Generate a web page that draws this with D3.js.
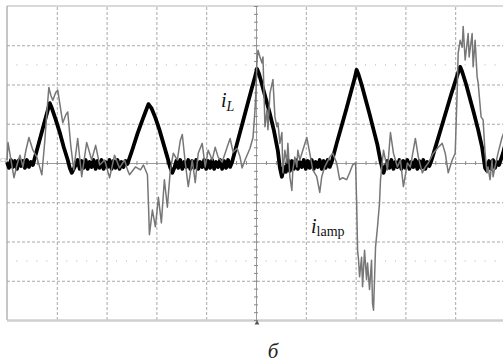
<!DOCTYPE html>
<html>
<head>
<meta charset="utf-8">
<script src="https://cdn.jsdelivr.net/npm/d3@7"></script>
<style>
  body { margin: 0; background: #fff; }
  svg { display: block; }
</style>
</head>
<body>
<script>
// time in us (50 us/div), current in mA (40 mA/div)
const iL_t = [
    0,2,4,6,8,10,12,14,16,18,20,22,24,26,
    34,38,41,43,45,49,53,57,61,63,65,67,
    69,71,73,75,77,79,81,83,85,87,89,91,93,95,97,99,101,103,105,107,109,111,113,115,117,119,121,
    126,131,136,139,142,145,149,153,157,161,164,166,168,
    170,172,174,176,178,180,182,184,186,188,190,192,194,196,198,200,202,204,206,208,210,212,214,216,218,220,222,224,226,
    231,236,241,246,249,251,253,256,260,264,268,272,274,276,278,
    280,282,284,286,288,290,292,294,296,298,300,302,304,306,308,310,312,314,316,318,320,322,324,326,
    331,336,341,346,349,351,353,356,360,364,368,372,375,378,380,
    382,384,386,388,390,392,394,396,398,400,402,404,406,408,410,412,414,416,418,420,422,424,426,
    431,436,441,446,451,453,455,457,461,465,469,473,477,480,482,
    484,486,488,490,492,494,496,498,500
];
const iL_v = [
    1,-5,3,-4,2,-6,3,-3,2,-5,3,-4,1,-2,
    28,43,54,61,56,44,31,16,3,-5,-10,-6,
    -2,3,-6,2,-5,3,-6,1,-4,3,-6,2,-5,3,-6,1,-4,3,-6,2,-5,3,-6,1,-4,2,-1,
    14,30,44,52,60,56,46,34,20,6,-5,-10,-5,
    2,-5,3,-6,1,-4,3,-6,2,-5,3,-6,1,-4,3,-6,2,-5,3,-6,1,-4,3,-6,2,-5,3,-4,1,
    20,39,58,77,88,96,91,80,65,50,33,12,-5,-14,-4,
    -9,3,-8,2,-6,3,-6,1,-4,3,-6,2,-5,3,-6,1,-4,3,-6,2,-5,3,-4,1,
    20,38,56,75,86,95,90,80,65,50,34,18,2,-10,-4,
    2,-5,3,-6,1,-4,3,-6,2,-5,3,-6,1,-4,3,-6,2,-5,3,-6,1,-3,2,
    19,36,53,70,86,92,98,93,80,65,50,34,16,-5,-8,
    2,-6,3,-5,1,-2,4,10,18
];

const iLamp_t = [0,1,4,7,10,13,16,19,22,26,30,33,35,38,40,42,44,46,49,51,54,56,59,61,64,67,71,75,80,85,89,93,98,103,108,113,118,121,123,129,134,137,141,142,143,146,149,152,155,158,161,164,167,171,174,176,179,182,186,189,192,196,199,202,206,209,212,216,219,221,224,227,231,234,236,239,244,247,249,250,251,252,254,256,257,259,261,262,264,267,269,271,272,274,276,277,279,281,282,284,286,287,289,291,292,294,297,301,304,307,311,314,316,319,324,327,331,334,337,341,344,347,350,351,352,353,354,356,357,359,361,362,364,366,367,368,369,370,372,374,375,378,382,385,388,392,395,398,402,405,410,413,417,420,423,428,433,437,440,443,447,450,452,453,455,457,458,460,463,464,467,468,470,472,473,476,478,480,482,483,485,487,488,490,493,497,500];
const iLamp_v = [3,21,3,-15,-2,8,-4,13,26,13,6,-5,-12,23,51,77,69,64,72,74,54,41,49,52,18,-7,25,-14,21,3,18,-2,3,-15,8,-5,3,-7,-12,-4,-7,-2,-12,-41,-73,-48,-65,-35,-61,-17,-45,-7,10,3,23,29,0,-24,3,-20,10,20,-4,13,3,16,6,1,10,16,25,11,15,6,-5,3,15,26,54,74,105,115,108,102,108,37,54,34,71,85,47,37,41,20,31,-10,13,0,20,-14,-28,-7,6,-4,13,3,13,26,10,-7,-14,-30,-14,-4,6,10,0,-17,-15,-17,-10,-2,0,-38,-89,-99,-116,-96,-126,-89,-119,-102,-129,-99,-143,-150,-119,-86,-65,-41,-17,13,-7,31,10,-4,3,-24,0,-4,25,6,-10,-4,0,10,16,20,10,-10,3,10,74,112,125,118,139,105,132,108,132,98,125,88,82,47,44,10,-10,-4,-17,3,-14,-4,10,26,34];

const W = 503, H = 363;
const x = d3.scaleLinear().domain([0, 500]).range([7, 505]);
const y = d3.scaleLinear().domain([-160, 160]).range([320, 6]);

const svg = d3.select("body").append("svg")
    .attr("width", W)
    .attr("height", H);

svg.append("rect").attr("width", W).attr("height", H).attr("fill", "#fff");

// dashed graticule
const gridX = d3.range(50, 500, 50).filter(d => d !== 250);
const gridY = d3.range(-120, 160, 40).filter(d => d !== 0);

svg.append("g")
    .attr("transform", "translate(0," + y(-160) + ")")
    .call(d3.axisBottom(x).tickValues(gridX).tickSize(-(y(-160) - y(160))).tickFormat(""))
    .call(g => g.select(".domain").remove())
    .selectAll("line")
    .attr("stroke", "#a8a8a8")
    .attr("stroke-dasharray", "3,2");

svg.append("g")
    .attr("transform", "translate(" + x(0) + ",0)")
    .call(d3.axisLeft(y).tickValues(gridY).tickSize(-(x(500) - x(0))).tickFormat(""))
    .call(g => g.select(".domain").remove())
    .selectAll("line")
    .attr("stroke", "#a8a8a8")
    .attr("stroke-dasharray", "3,2");

// dotted rows
const dotT = d3.range(10, 500, 10).filter(d => d % 50 !== 0);
[100, -100].forEach(v => {
    svg.append("g").selectAll("rect")
        .data(dotT)
        .enter()
        .append("rect")
        .attr("x", d => x(d) - 0.5)
        .attr("y", y(v) - 0.5)
        .attr("width", 1)
        .attr("height", 1)
        .attr("fill", "#b0b0b0");
});

// frame
svg.append("line").attr("x1", x(0)).attr("x2", W).attr("y1", y(160)).attr("y2", y(160))
    .attr("stroke", "#b4b4b4").attr("stroke-width", 1.2);
svg.append("line").attr("x1", x(0)).attr("x2", x(0)).attr("y1", y(160)).attr("y2", y(-160))
    .attr("stroke", "#a0a0a0").attr("stroke-width", 1.2);
svg.append("line").attr("x1", x(0)).attr("x2", W).attr("y1", y(-160) + 0.5).attr("y2", y(-160) + 0.5)
    .attr("stroke", "#cfcfcf").attr("stroke-width", 2.5);

// centre axes with minor ticks
svg.append("g")
    .attr("transform", "translate(0," + y(0) + ")")
    .call(d3.axisBottom(x).tickValues(d3.range(0, 501, 10)).tickSize(2).tickFormat(""))
    .call(g => g.select(".domain").attr("stroke", "#9a9a9a"))
    .call(g => g.selectAll(".tick line").attr("y1", -2).attr("stroke", "#8a8a8a"));

svg.append("g")
    .attr("transform", "translate(" + x(250) + ",0)")
    .call(d3.axisLeft(y).tickValues(d3.range(-160, 161, 8)).tickSize(2).tickFormat(""))
    .call(g => g.select(".domain").attr("stroke", "#9a9a9a"))
    .call(g => g.selectAll(".tick line").attr("x1", 2).attr("stroke", "#8a8a8a"));

// trigger marker + channel marker
svg.append("path")
    .attr("d", d3.symbol().type(d3.symbolTriangle).size(10))
    .attr("transform", "translate(" + (x(251)) + "," + (y(-160) + 3) + ")")
    .attr("fill", "#555");
svg.append("text")
    .attr("x", 0).attr("y", y(0) - 1)
    .attr("font-family", "DejaVu Sans")
    .attr("font-size", 5)
    .attr("fill", "#999")
    .text("C1");

// traces
const line = d3.line()
    .x(d => x(d[0]))
    .y(d => y(d[1]));

svg.append("path")
    .datum(d3.zip(iL_t, iL_v))
    .attr("d", line)
    .attr("fill", "none")
    .attr("stroke", "#000")
    .attr("stroke-width", 3.8)
    .attr("stroke-linejoin", "round");

svg.append("path")
    .datum(d3.zip(iLamp_t, iLamp_v))
    .attr("d", line)
    .attr("fill", "none")
    .attr("stroke", "#777")
    .attr("stroke-width", 1.5)
    .attr("stroke-linejoin", "round");

// labels
const lab1 = svg.append("text")
    .attr("x", 221).attr("y", 107)
    .attr("font-family", "Liberation Serif")
    .attr("fill", "#111");
lab1.append("tspan").attr("font-style", "italic").attr("font-size", 20).text("i");
lab1.append("tspan").attr("font-style", "italic").attr("font-size", 14).attr("dy", 4).text("L");

const lab2 = svg.append("text")
    .attr("x", 311).attr("y", 233)
    .attr("font-family", "Liberation Serif")
    .attr("fill", "#111");
lab2.append("tspan").attr("font-style", "italic").attr("font-size", 20).text("i");
lab2.append("tspan").attr("font-size", 14).attr("dy", 3).text("lamp");

svg.append("text")
    .attr("x", 273).attr("y", 358)
    .attr("text-anchor", "middle")
    .attr("font-family", "Liberation Serif")
    .attr("font-style", "italic")
    .attr("font-size", 21)
    .attr("fill", "#222")
    .text("б");
</script>
</body>
</html>
